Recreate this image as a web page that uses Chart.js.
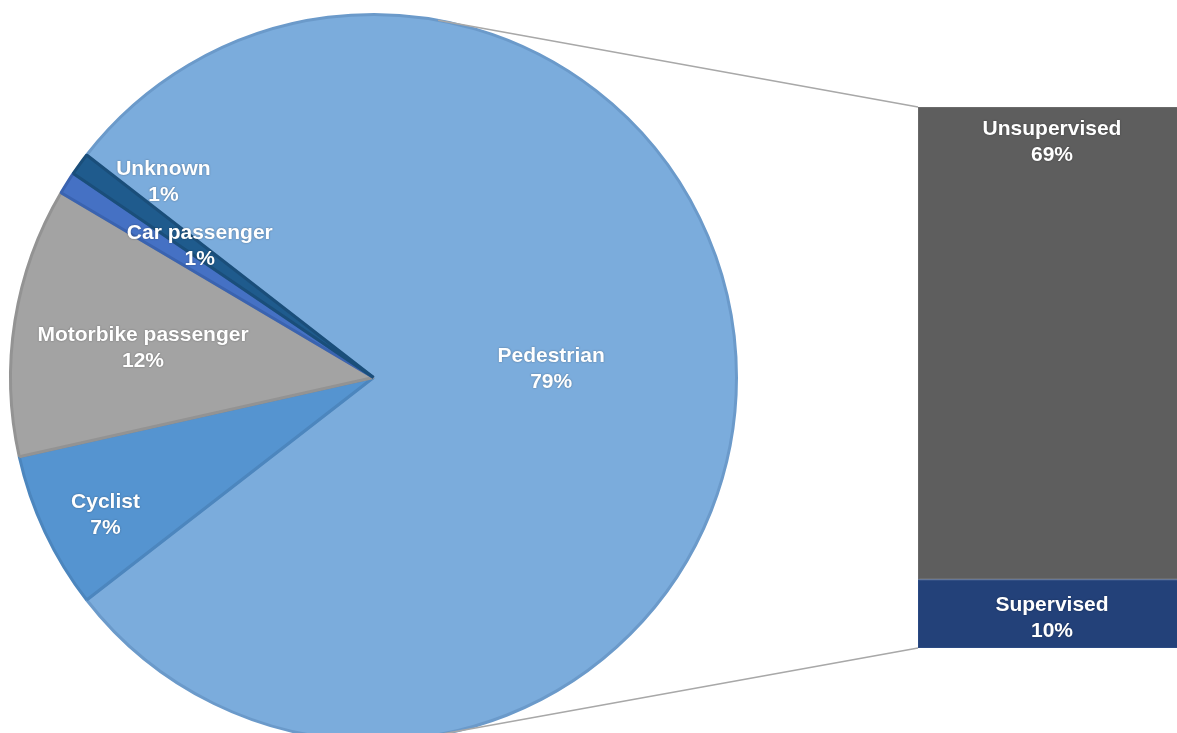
<!DOCTYPE html>
<html lang="en">
<head>
<meta charset="utf-8">
<title>Road casualties by user type</title>
<script src="https://cdn.jsdelivr.net/npm/chart.js@4.4.1/dist/chart.umd.min.js"></script>
<style>
    html, body {
        margin: 0;
        padding: 0;
        background: #FFFFFF;
        overflow: hidden;
        width: 1177px;
        height: 733px;
    }

    .layer {
        position: absolute;
        left: 0;
        top: 0;
    }
</style>
</head>
<body>

<canvas id="pieChart" class="layer" width="1200" height="760"></canvas>
<canvas id="barChart" class="layer" width="1200" height="760"></canvas>

<script>
"use strict";

/**
 * Share of casualties by road user type (percent).
 */
const userTypes = [
    "Pedestrian",
    "Cyclist",
    "Motorbike passenger",
    "Car passenger",
    "Unknown"
];

const userShares = [79, 7, 12, 1, 1];

/**
 * Pedestrian share split by supervision (percent of all casualties).
 */
const supervisionTypes = ["Supervised", "Unsupervised"];

const supervisionShares = [10, 69];

/**
 * Slice colours, fill and outline.
 */
const sliceColors = ["#7BACDC", "#5594D0", "#A3A3A3", "#4571C4", "#1F5B8D"];
const sliceBorders = ["#6B9ACA", "#4C86BE", "#939393", "#3A63B0", "#1A4E7A"];

const barColors = ["#234179", "#5E5E5E"];
const barBorders = ["#2F4F88", "#707070"];

/**
 * Where each pie label sits: fraction of the radius
 * and a nudge (degrees) off the slice's middle angle.
 */
const labelRadius = [0.49, 0.83, 0.64, 0.6, 0.79];
const labelNudge = [-2.6, -2.0, -1.8, 4.7, 6.9];

const labelFont = "bold 21px 'Liberation Sans', Arial, sans-serif";
const lineGap = 26;

/**
 * Writes a two line label (name, then percent) centred on x, y.
 */
function drawLabel(ctx, x, y, name, value) {

    ctx.save();
    ctx.font = labelFont;
    ctx.fillStyle = "#FFFFFF";
    ctx.textAlign = "center";
    ctx.textBaseline = "middle";
    ctx.shadowColor = "rgba(0, 0, 0, 0.35)";
    ctx.shadowBlur = 2;

    ctx.fillText(name, x, y - lineGap / 2);
    ctx.fillText(value + "%", x, y + lineGap / 2);

    ctx.restore();

}

// ------------------------------------
// Pie labels, placed from each arc.
// ------------------------------------
const pieLabels = {

    id: "pieLabels",

    afterDatasetsDraw(chart) {

        const ctx = chart.ctx;
        const arcs = chart.getDatasetMeta(0).data;

        arcs.forEach((arc, i) => {

            const mid = (arc.startAngle + arc.endAngle) / 2 + labelNudge[i] * Math.PI / 180;
            const r = arc.outerRadius * labelRadius[i];

            drawLabel(
                ctx,
                arc.x + Math.cos(mid) * r,
                arc.y + Math.sin(mid) * r,
                userTypes[i],
                userShares[i]
            );

        });

    }

};

const pieChart = new Chart(document.querySelector("#pieChart"), {

    type: "pie",

    data: {
        labels: userTypes,
        datasets: [
            {
                data: userShares,
                backgroundColor: sliceColors,
                borderColor: sliceBorders,
                borderWidth: 3
            }
        ]
    },

    options: {
        responsive: false,
        animation: false,
        events: [],
        rotation: 307.8,
        layout: {
            padding: { left: 9, top: 13, right: 462, bottom: 18 }
        },
        plugins: {
            legend: { display: false },
            tooltip: { enabled: false }
        }
    },

    plugins: [pieLabels]

});

// ------------------------------------
// Lines from the bar corners, tangent
// to the pie's outer edge.
// ------------------------------------
function tangentPoint(cx, cy, r, px, py, side) {

    const dx = px - cx;
    const dy = py - cy;
    const d = Math.hypot(dx, dy);
    const base = Math.atan2(dy, dx);
    const a = base + side * Math.acos(r / d);

    return { x: cx + Math.cos(a) * r, y: cy + Math.sin(a) * r };

}

const connectors = {

    id: "connectors",

    beforeDatasetsDraw(chart) {

        const arc = pieChart.getDatasetMeta(0).data[0];
        const area = chart.chartArea;
        const ctx = chart.ctx;

        const top = tangentPoint(arc.x, arc.y, arc.outerRadius, area.left, area.top, -1);
        const bottom = tangentPoint(arc.x, arc.y, arc.outerRadius, area.left, area.bottom, 1);

        ctx.save();
        ctx.strokeStyle = "#A8A8A8";
        ctx.lineWidth = 1.5;

        ctx.beginPath();
        ctx.moveTo(top.x, top.y);
        ctx.lineTo(area.left, area.top);
        ctx.moveTo(bottom.x, bottom.y);
        ctx.lineTo(area.left, area.bottom);
        ctx.stroke();

        ctx.restore();

    },

    afterDatasetsDraw(chart) {

        chart.data.datasets.forEach((dataset, i) => {

            const bar = chart.getDatasetMeta(i).data[0];
            const name = supervisionTypes[i];
            const value = supervisionShares[i];

            // The tall segment carries its label near its top edge.
            const y = value > 30
                ? bar.y + 22 + lineGap / 2
                : (bar.y + bar.base) / 2 + 4;

            drawLabel(chart.ctx, bar.x, y, name, value);

        });

    }

};

new Chart(document.querySelector("#barChart"), {

    type: "bar",

    data: {
        labels: ["Pedestrian"],
        datasets: supervisionTypes.map((type, i) => ({
            label: type,
            data: [supervisionShares[i]],
            backgroundColor: barColors[i],
            borderColor: barBorders[i],
            borderWidth: 1,
            borderSkipped: false,
            barPercentage: 1,
            categoryPercentage: 1
        }))
    },

    options: {
        responsive: false,
        animation: false,
        events: [],
        layout: {
            padding: { left: 918, top: 107, right: 14, bottom: 112 }
        },
        scales: {
            x: { stacked: true, display: false },
            y: {
                stacked: true,
                display: false,
                min: 0,
                max: supervisionShares.reduce((sum, v) => sum + v, 0)
            }
        },
        plugins: {
            legend: { display: false },
            tooltip: { enabled: false }
        }
    },

    plugins: [connectors]

});
</script>
</body>
</html>
